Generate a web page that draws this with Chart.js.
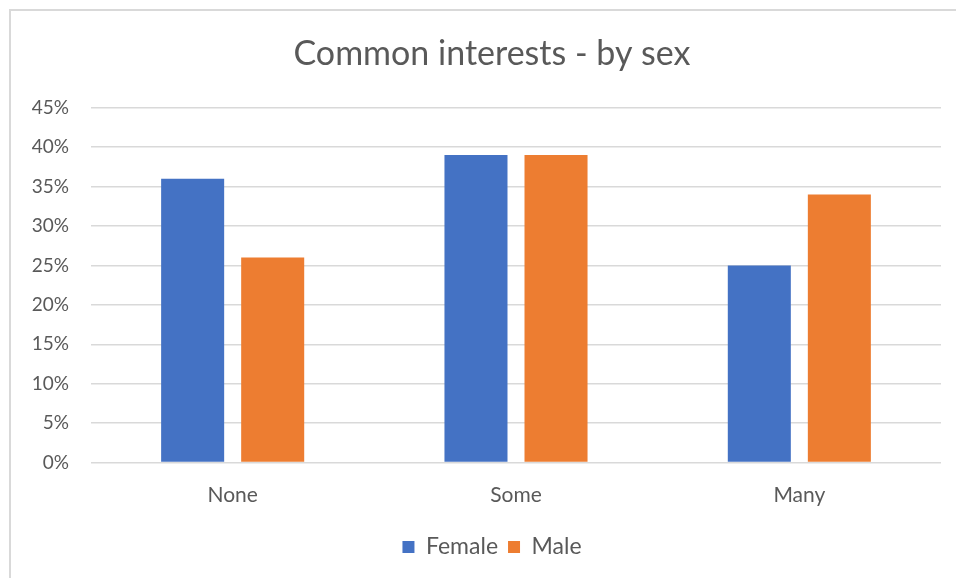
<!DOCTYPE html>
<html>
<head>
<meta charset="utf-8">
<script src="https://cdn.jsdelivr.net/npm/chart.js@4/dist/chart.umd.min.js"></script>
<style>
    html, body { margin: 0; padding: 0; background: #fff; overflow: hidden; }
    #frame { position: absolute; left: 9px; top: 9px; width: 1000px; height: 1000px; border: 2px solid #d9d9d9; }
    #wrap { position: absolute; left: 0; top: 0; width: 984px; height: 578px; }
</style>
</head>
<body>
<div id="frame"></div>
<div id="wrap"><canvas id="chart"></canvas></div>
<script>
var categories = ['None', 'Some', 'Many'];
var female = [36, 39, 25];
var male = [26, 39, 34];
var yTicks = [0, 5, 10, 15, 20, 25, 30, 35, 40, 45];

var text = '#595959';
var grid = '#d9d9d9';

Chart.defaults.font.family = 'Lato, Carlito, "Open Sans", sans-serif';
Chart.defaults.color = text;

var config = {
    type: 'bar',
    data: {
        labels: categories,
        datasets: [
            { label: 'Female', data: female, backgroundColor: '#4472c4' },
            { label: 'Male', data: male, backgroundColor: '#ed7d31' }
        ]
    },
    options: {
        responsive: true,
        maintainAspectRatio: false,
        animation: false,
        categoryPercentage: 0.565,
        barPercentage: 0.7875,
        layout: { padding: { left: 0, right: 0, top: 0, bottom: 9.5 } },
        plugins: {
            title: {
                display: true,
                text: 'Common interests - by sex',
                color: text,
                font: { size: 34, weight: 'normal' },
                padding: { top: 34, bottom: 33 }
            },
            legend: {
                position: 'bottom',
                labels: {
                    boxWidth: 12,
                    boxHeight: 12,
                    padding: 10,
                    color: text,
                    font: { size: 23 }
                }
            },
            tooltip: { enabled: false }
        },
        scales: {
            x: {
                grid: { display: false },
                border: { display: false },
                ticks: { font: { size: 21 }, padding: 12, color: text },
                afterFit: function (scale) { scale.height = 63; }
            },
            y: {
                min: 0,
                max: 45,
                afterBuildTicks: function (scale) {
                    scale.ticks = yTicks.map(function (v) { return { value: v }; });
                },
                ticks: {
                    font: { size: 19 },
                    padding: 22,
                    color: text,
                    callback: function (v) { return v + '%'; }
                },
                grid: { color: grid, lineWidth: 1.5, drawTicks: false },
                border: { display: false },
                afterFit: function (scale) { scale.width = 91; }
            },
            // empty right-hand spacer so title and legend centre where the reference has them
            spacer: {
                type: 'linear',
                position: 'right',
                grid: { display: false, drawTicks: false },
                border: { display: false },
                ticks: { display: false },
                afterFit: function (scale) { scale.width = 43; }
            }
        }
    }
};

new Chart(document.getElementById('chart'), config);
</script>
</body>
</html>
